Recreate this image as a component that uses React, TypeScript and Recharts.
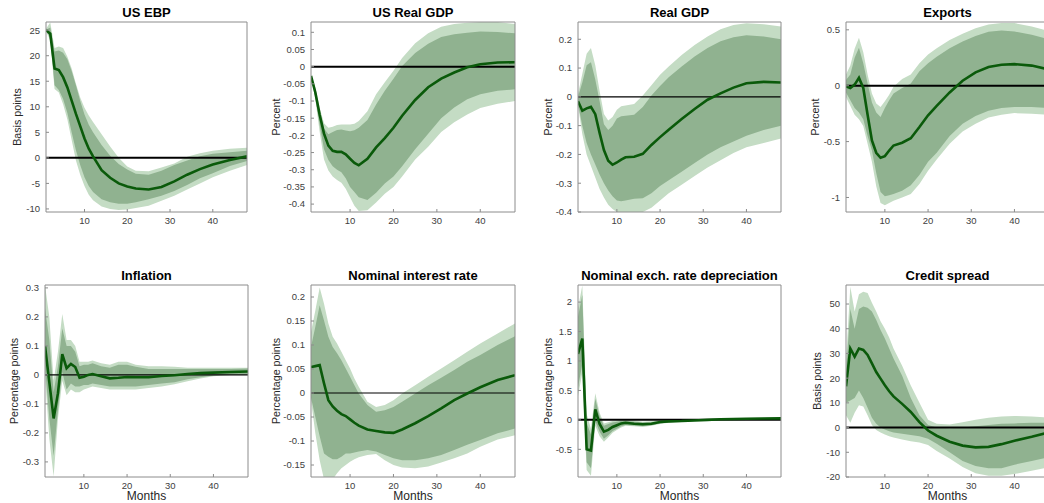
import { ComposedChart, Area, Line, XAxis, YAxis, ReferenceLine } from 'recharts'

const MONTHS = [1, 2, 3, 4, 5, 6, 7, 8, 9, 10, 11, 12, 14, 16, 18, 20, 22, 25, 28, 31, 34, 37, 40, 44, 48]
const X_TICKS = [10, 20, 30, 40]

// US EBP
const EBP_MED = [25, 24.3, 17.5, 17.2, 15.8, 13.8, 11.2, 8.6, 6.2, 3.8, 1.8, 0.3, -2.4, -3.9, -5, -5.6, -6, -6.2, -5.7, -4.6, -3.3, -2.2, -1.3, -0.4, 0.3]
const EBP_OUT_HI = [25.3, 26.5, 21.5, 21.8, 21.5, 19.8, 17.5, 14.5, 11.8, 9.8, 8.3, 7, 4.6, 2.2, 0, -1.7, -2.5, -2.6, -1.9, -1.1, 0.2, 0.9, 1.4, 1.8, 2]
const EBP_IN_HI = [25.1, 25.5, 20.8, 21, 20.6, 19.3, 17, 14.2, 11.2, 8.5, 6.5, 5, 2.5, 0.4, -1.2, -2.3, -3.1, -3.3, -2.5, -1.4, -0.5, 0.3, 0.8, 1.1, 1.4]
const EBP_IN_LO = [24.9, 23.5, 14.2, 13.3, 11.5, 8.8, 5, 1.5, -1.4, -3.8, -5.5, -6.7, -8.1, -8.7, -9, -9, -8.7, -8.1, -7.4, -6.5, -5.3, -4, -3, -1.6, -0.6]
const EBP_OUT_LO = [24.8, 23, 13.5, 12.8, 10.5, 7.5, 3.5, -0.5, -3.3, -5.5, -7.2, -8.3, -9.5, -10, -10.2, -10.1, -9.8, -9.4, -8.4, -7.4, -6.2, -5, -3.8, -2.5, -1.4]

// US real GDP
const USGDP_MED = [-0.027, -0.075, -0.14, -0.195, -0.23, -0.245, -0.248, -0.248, -0.255, -0.268, -0.28, -0.287, -0.268, -0.235, -0.208, -0.178, -0.143, -0.097, -0.06, -0.035, -0.017, -0.002, 0.007, 0.012, 0.013]
const USGDP_OUT_HI = [-0.025, -0.06, -0.12, -0.165, -0.178, -0.175, -0.17, -0.168, -0.168, -0.168, -0.166, -0.158, -0.13, -0.08, -0.045, -0.012, 0.025, 0.068, 0.097, 0.116, 0.124, 0.128, 0.13, 0.13, 0.124]
const USGDP_IN_HI = [-0.027, -0.065, -0.13, -0.18, -0.197, -0.19, -0.184, -0.183, -0.186, -0.188, -0.185, -0.178, -0.155, -0.11, -0.07, -0.035, 0.002, 0.04, 0.067, 0.086, 0.094, 0.099, 0.102, 0.101, 0.097]
const USGDP_IN_LO = [-0.028, -0.09, -0.17, -0.24, -0.272, -0.29, -0.3, -0.307, -0.325, -0.35, -0.365, -0.38, -0.388, -0.367, -0.34, -0.32, -0.29, -0.24, -0.195, -0.15, -0.119, -0.095, -0.08, -0.07, -0.066]
const USGDP_OUT_LO = [-0.028, -0.095, -0.19, -0.27, -0.302, -0.32, -0.33, -0.338, -0.355, -0.38, -0.405, -0.42, -0.418, -0.395, -0.37, -0.35, -0.32, -0.27, -0.233, -0.19, -0.162, -0.139, -0.12, -0.108, -0.1]

// Real GDP
const GDP_MED = [-0.015, -0.048, -0.04, -0.035, -0.06, -0.125, -0.185, -0.222, -0.236, -0.228, -0.218, -0.21, -0.208, -0.198, -0.167, -0.14, -0.114, -0.077, -0.042, -0.01, 0.012, 0.032, 0.047, 0.052, 0.05]
const GDP_OUT_HI = [0.01, 0.08, 0.15, 0.17, 0.11, 0.02, -0.06, -0.082, -0.07, -0.045, -0.033, -0.03, -0.025, 0.005, 0.04, 0.077, 0.105, 0.145, 0.18, 0.21, 0.235, 0.25, 0.256, 0.252, 0.244]
const GDP_IN_HI = [0, 0.05, 0.11, 0.12, 0.06, -0.015, -0.095, -0.115, -0.1, -0.075, -0.067, -0.066, -0.062, -0.035, 0.005, 0.038, 0.068, 0.105, 0.14, 0.17, 0.193, 0.207, 0.214, 0.21, 0.2]
const GDP_IN_LO = [-0.025, -0.1, -0.16, -0.2, -0.235, -0.27, -0.3, -0.325, -0.345, -0.36, -0.363, -0.36, -0.354, -0.352, -0.335, -0.31, -0.29, -0.26, -0.23, -0.2, -0.175, -0.155, -0.135, -0.115, -0.1]
const GDP_OUT_LO = [-0.03, -0.13, -0.2, -0.24, -0.28, -0.32, -0.35, -0.375, -0.39, -0.4, -0.41, -0.41, -0.405, -0.4, -0.385, -0.36, -0.335, -0.305, -0.275, -0.245, -0.22, -0.195, -0.175, -0.16, -0.145]

// Exports
const EXP_MED = [-0.005, -0.02, 0.01, 0.07, -0.02, -0.26, -0.49, -0.6, -0.645, -0.63, -0.58, -0.535, -0.51, -0.47, -0.37, -0.265, -0.18, -0.06, 0.045, 0.12, 0.168, 0.188, 0.193, 0.18, 0.145]
const EXP_OUT_HI = [0.1, 0.18, 0.33, 0.43, 0.3, 0.1, -0.07, -0.16, -0.19, -0.14, -0.08, -0.01, 0.06, 0.1, 0.2, 0.28, 0.335, 0.41, 0.465, 0.515, 0.548, 0.56, 0.56, 0.53, 0.49]
const EXP_IN_HI = [0.05, 0.1, 0.25, 0.34, 0.2, 0.02, -0.15, -0.24, -0.28, -0.2, -0.13, -0.07, -0.02, 0.02, 0.13, 0.2, 0.26, 0.335, 0.395, 0.445, 0.482, 0.495, 0.485, 0.455, 0.415]
const EXP_IN_LO = [-0.06, -0.13, -0.2, -0.24, -0.3, -0.45, -0.58, -0.78, -0.95, -0.99, -0.98, -0.97, -0.94, -0.89, -0.8, -0.68, -0.6, -0.45, -0.34, -0.27, -0.225, -0.2, -0.19, -0.19, -0.2]
const EXP_OUT_LO = [-0.1, -0.18, -0.26, -0.3, -0.36, -0.52, -0.68, -0.9, -1.05, -1.07, -1.05, -1.03, -1, -0.97, -0.88, -0.76, -0.66, -0.52, -0.41, -0.34, -0.285, -0.26, -0.245, -0.25, -0.26]

// Inflation
const INF_MED = [0.1, -0.025, -0.15, -0.063, 0.072, 0.023, 0.038, 0.027, -0.01, -0.006, 0, 0.003, -0.005, -0.012, -0.01, -0.007, -0.008, -0.008, -0.004, -0.001, 0.003, 0.006, 0.008, 0.01, 0.012]
const INF_OUT_HI = [0.31, 0.2, -0.02, 0.08, 0.21, 0.12, 0.12, 0.1, 0.045, 0.045, 0.045, 0.05, 0.04, 0.035, 0.045, 0.045, 0.035, 0.03, 0.03, 0.028, 0.025, 0.025, 0.025, 0.025, 0.025]
const INF_IN_HI = [0.23, 0.12, -0.06, 0.03, 0.16, 0.1, 0.1, 0.08, 0.03, 0.035, 0.035, 0.04, 0.03, 0.025, 0.035, 0.035, 0.028, 0.02, 0.02, 0.02, 0.02, 0.02, 0.02, 0.02, 0.022]
const INF_IN_LO = [0.03, -0.15, -0.28, -0.12, 0.01, -0.05, -0.03, -0.04, -0.04, -0.035, -0.035, -0.03, -0.035, -0.04, -0.04, -0.04, -0.04, -0.035, -0.03, -0.025, -0.015, -0.008, -0.002, 0.002, 0.003]
const INF_OUT_LO = [0, -0.22, -0.35, -0.15, -0.02, -0.07, -0.05, -0.06, -0.06, -0.05, -0.045, -0.04, -0.045, -0.05, -0.05, -0.05, -0.05, -0.045, -0.04, -0.032, -0.022, -0.012, -0.005, 0, 0]

// Nominal interest rate
const RATE_MED = [0.054, 0.056, 0.058, 0.02, -0.015, -0.028, -0.037, -0.044, -0.048, -0.055, -0.062, -0.068, -0.076, -0.079, -0.082, -0.083, -0.076, -0.063, -0.048, -0.032, -0.015, -0.001, 0.012, 0.027, 0.037]
const RATE_OUT_HI = [0.127, 0.172, 0.22, 0.186, 0.145, 0.117, 0.103, 0.086, 0.068, 0.051, 0.03, 0.013, -0.018, -0.029, -0.025, -0.015, -0.001, 0.016, 0.034, 0.051, 0.068, 0.086, 0.103, 0.124, 0.145]
const RATE_IN_HI = [0.096, 0.138, 0.183, 0.151, 0.117, 0.096, 0.083, 0.068, 0.051, 0.034, 0.016, -0.001, -0.025, -0.039, -0.036, -0.029, -0.018, -0.001, 0.016, 0.032, 0.048, 0.065, 0.079, 0.1, 0.118]
const RATE_IN_LO = [-0.01, -0.05, -0.09, -0.126, -0.133, -0.138, -0.138, -0.133, -0.126, -0.126, -0.124, -0.122, -0.119, -0.122, -0.129, -0.136, -0.14, -0.14, -0.136, -0.129, -0.119, -0.108, -0.098, -0.084, -0.074]
const RATE_OUT_LO = [-0.015, -0.084, -0.14, -0.18, -0.185, -0.18, -0.167, -0.157, -0.15, -0.143, -0.138, -0.134, -0.129, -0.127, -0.14, -0.15, -0.155, -0.157, -0.153, -0.145, -0.136, -0.126, -0.112, -0.097, -0.088]

// Nominal exchange rate depreciation
const FX_MED = [1.12, 1.38, -0.5, -0.52, 0.18, -0.07, -0.2, -0.17, -0.12, -0.09, -0.06, -0.05, -0.065, -0.075, -0.065, -0.035, -0.025, -0.02, -0.01, 0, 0.01, 0.015, 0.02, 0.022, 0.025]
const FX_OUT_HI = [1.9, 2.28, 0.1, -0.15, 0.45, 0.12, -0.06, -0.04, -0.02, -0.01, 0, 0.005, -0.01, -0.03, -0.025, -0.005, 0, 0.003, 0.008, 0.015, 0.022, 0.028, 0.033, 0.036, 0.04]
const FX_IN_HI = [1.75, 2.12, -0.05, -0.25, 0.36, 0.06, -0.1, -0.07, -0.045, -0.03, -0.02, -0.015, -0.03, -0.045, -0.04, -0.015, -0.008, -0.005, 0, 0.008, 0.018, 0.022, 0.027, 0.03, 0.035]
const FX_IN_LO = [0.55, 0.95, -0.72, -0.82, -0.02, -0.2, -0.32, -0.26, -0.19, -0.15, -0.11, -0.085, -0.095, -0.105, -0.09, -0.06, -0.042, -0.03, -0.017, -0.007, 0.002, 0.007, 0.011, 0.012, 0.012]
const FX_OUT_LO = [0.4, 0.8, -0.85, -0.95, -0.1, -0.28, -0.37, -0.3, -0.22, -0.17, -0.13, -0.1, -0.11, -0.12, -0.1, -0.07, -0.05, -0.035, -0.02, -0.01, 0, 0.005, 0.008, 0.008, 0.008]

// Credit spread
const CS_MED = [16.7, 32, 28.7, 32, 31.4, 29.4, 26, 22.5, 19.8, 17.1, 14.7, 12.6, 9.6, 6.3, 2.2, -1.2, -3.3, -5.7, -7.3, -8, -7.8, -6.7, -5.3, -3.7, -1.9]
const CS_OUT_HI = [27, 57, 47, 54, 55, 54.5, 50.5, 47, 43, 40, 36.5, 32, 25, 17, 10, 3.2, 1.5, 1.2, 2.2, 3.2, 4, 4.5, 4.7, 4.5, 4]
const CS_IN_HI = [22, 48, 40, 48, 49, 48.5, 47, 43.5, 39.5, 36, 32, 28, 21, 12, 5, 1, 0, -0.3, 0, 0.5, 1, 1.5, 1.7, 2, 2]
const CS_IN_LO = [10, 11, 12, 15, 12, 8, 4, 1.5, 0, -0.8, -1.5, -2, -2.5, -3, -3.5, -4.5, -6.5, -10, -13.5, -15.5, -16.5, -16.5, -15, -13.5, -12]
const CS_OUT_LO = [5, 2, 6, 9, 8.5, 5, 1, -1, -2, -2.8, -3.5, -4, -4.8, -5.5, -6, -7, -9.5, -12.5, -16, -18.5, -19.5, -19.5, -18.8, -17.5, -16]

const LIGHT = '#c4dcc4'
const DARK = '#90b290'
const LINE = '#0a5a0a'
const AXIS = '#8c8c8c'
const FONT = '"Liberation Sans", Arial, Helvetica, sans-serif'
const YW = 40
const PAD = 6 // room above the plot so the top tick label is not clipped

type PanelDef = {
  title: string
  unit: string
  med: number[]
  inLo: number[]
  inHi: number[]
  outLo: number[]
  outHi: number[]
  domain: [number, number]
  yTicks: number[]
  left: number
  top: number
  w: number
  h: number
  labelX: number
  zeroW: number
  months?: boolean
}

const PANELS: PanelDef[] = [
  { title: 'US EBP', unit: 'Basis points', med: EBP_MED, inLo: EBP_IN_LO, inHi: EBP_IN_HI, outLo: EBP_OUT_LO, outHi: EBP_OUT_HI,
    domain: [-10.6, 26.6], yTicks: [-10, -5, 0, 5, 10, 15, 20, 25], left: 46, top: 22, w: 201, h: 190, labelX: 17, zeroW: 2 },
  { title: 'US Real GDP', unit: 'Percent', med: USGDP_MED, inLo: USGDP_IN_LO, inHi: USGDP_IN_HI, outLo: USGDP_OUT_LO, outHi: USGDP_OUT_HI,
    domain: [-0.423, 0.13], yTicks: [-0.4, -0.35, -0.3, -0.25, -0.2, -0.15, -0.1, -0.05, 0, 0.05, 0.1], left: 311, top: 22, w: 204, h: 190, labelX: 276, zeroW: 2 },
  { title: 'Real GDP', unit: 'Percent', med: GDP_MED, inLo: GDP_IN_LO, inHi: GDP_IN_HI, outLo: GDP_OUT_LO, outHi: GDP_OUT_HI,
    domain: [-0.4, 0.26], yTicks: [-0.4, -0.3, -0.2, -0.1, 0, 0.1, 0.2], left: 578, top: 22, w: 203, h: 190, labelX: 548, zeroW: 1.2 },
  { title: 'Exports', unit: 'Percent', med: EXP_MED, inLo: EXP_IN_LO, inHi: EXP_IN_HI, outLo: EXP_OUT_LO, outHi: EXP_OUT_HI,
    domain: [-1.13, 0.57], yTicks: [-1, -0.5, 0, 0.5], left: 846, top: 22, w: 203, h: 190, labelX: 815, zeroW: 2 },
  { title: 'Inflation', unit: 'Percentage points', med: INF_MED, inLo: INF_IN_LO, inHi: INF_IN_HI, outLo: INF_OUT_LO, outHi: INF_OUT_HI,
    domain: [-0.352, 0.31], yTicks: [-0.3, -0.2, -0.1, 0, 0.1, 0.2, 0.3], left: 45, top: 285, w: 203, h: 192, labelX: 14, zeroW: 1.2, months: true },
  { title: 'Nominal interest rate', unit: 'Percentage points', med: RATE_MED, inLo: RATE_IN_LO, inHi: RATE_IN_HI, outLo: RATE_OUT_LO, outHi: RATE_OUT_HI,
    domain: [-0.175, 0.225], yTicks: [-0.15, -0.1, -0.05, 0, 0.05, 0.1, 0.15, 0.2], left: 311, top: 285, w: 204, h: 192, labelX: 276, zeroW: 1.2, months: true },
  { title: 'Nominal exch. rate depreciation', unit: 'Percentage points', med: FX_MED, inLo: FX_IN_LO, inHi: FX_IN_HI, outLo: FX_OUT_LO, outHi: FX_OUT_HI,
    domain: [-0.97, 2.29], yTicks: [-0.5, 0, 0.5, 1, 1.5, 2], left: 578, top: 285, w: 203, h: 192, labelX: 548, zeroW: 2, months: true },
  { title: 'Credit spread', unit: 'Basis points', med: CS_MED, inLo: CS_IN_LO, inHi: CS_IN_HI, outLo: CS_OUT_LO, outHi: CS_OUT_HI,
    domain: [-20, 57.7], yTicks: [-20, -10, 0, 10, 20, 30, 40, 50], left: 846, top: 285, w: 203, h: 192, labelX: 817, zeroW: 2, months: true },
]

const Panel = ({ p }: { p: PanelDef }) => {
  const data = MONTHS.map((m, i) => ({
    m,
    med: p.med[i],
    inner: [p.inLo[i], p.inHi[i]],
    outer: [p.outLo[i], p.outHi[i]],
  }))

  return (
    <>
      <div style={{ position: 'absolute', left: p.left, top: p.top - 17, width: p.w, textAlign: 'center', font: `bold 13px ${FONT}`, color: '#000', whiteSpace: 'nowrap' }}>
        {p.title}
      </div>
      <div style={{ position: 'absolute', left: p.labelX, top: p.top + p.h / 2, transform: 'translate(-50%, -50%) rotate(-90deg)', font: `10.7px ${FONT}`, color: '#262626', whiteSpace: 'nowrap' }}>
        {p.unit}
      </div>
      {p.months && (
        <div style={{ position: 'absolute', left: p.left, top: p.top + p.h + 13, width: p.w, textAlign: 'center', font: `12px/12px ${FONT}`, color: '#262626' }}>
          Months
        </div>
      )}
      <div style={{ position: 'absolute', left: p.left - YW, top: p.top - 1 - PAD }}>
        <ComposedChart width={YW + p.w + 1} height={PAD + p.h + 1 + 22} data={data} margin={{ top: PAD, right: 0, bottom: 0, left: 0 }}>
          <XAxis xAxisId="b" dataKey="m" type="number" domain={[1, 48]} ticks={X_TICKS} height={22}
            tickSize={-3} tickMargin={8} stroke={AXIS} tick={{ fill: '#404040', fontSize: 9.5, fontFamily: FONT }} allowDataOverflow />
          <XAxis xAxisId="t" orientation="top" dataKey="m" type="number" domain={[1, 48]} ticks={X_TICKS} height={1}
            tickSize={-3} tick={false} stroke={AXIS} allowDataOverflow />
          <YAxis yAxisId="l" type="number" domain={p.domain} ticks={p.yTicks} width={YW} interval={0}
            tickSize={-3} tickMargin={9} stroke={AXIS} tick={{ fill: '#404040', fontSize: 9.5, fontFamily: FONT }} allowDataOverflow />
          <YAxis yAxisId="r" orientation="right" type="number" domain={p.domain} ticks={p.yTicks} width={1} interval={0}
            tickSize={-3} tick={false} stroke={AXIS} allowDataOverflow />
          <Area xAxisId="b" yAxisId="l" dataKey="outer" type="linear" stroke="none" fill={LIGHT} fillOpacity={1} isAnimationActive={false} />
          <Area xAxisId="b" yAxisId="l" dataKey="inner" type="linear" stroke="none" fill={DARK} fillOpacity={1} isAnimationActive={false} />
          <ReferenceLine xAxisId="b" yAxisId="l" y={0} stroke="#000" strokeWidth={p.zeroW} />
          <Line xAxisId="b" yAxisId="l" dataKey="med" type="linear" stroke={LINE} strokeWidth={2.6} dot={false} isAnimationActive={false} />
        </ComposedChart>
      </div>
    </>
  )
}

export default function App() {
  return (
    <div style={{ position: 'absolute', left: 0, top: 0, width: 1044, height: 503, overflow: 'hidden', background: '#fff' }}>
      {PANELS.map((p) => (
        <Panel key={p.title} p={p} />
      ))}
    </div>
  )
}
